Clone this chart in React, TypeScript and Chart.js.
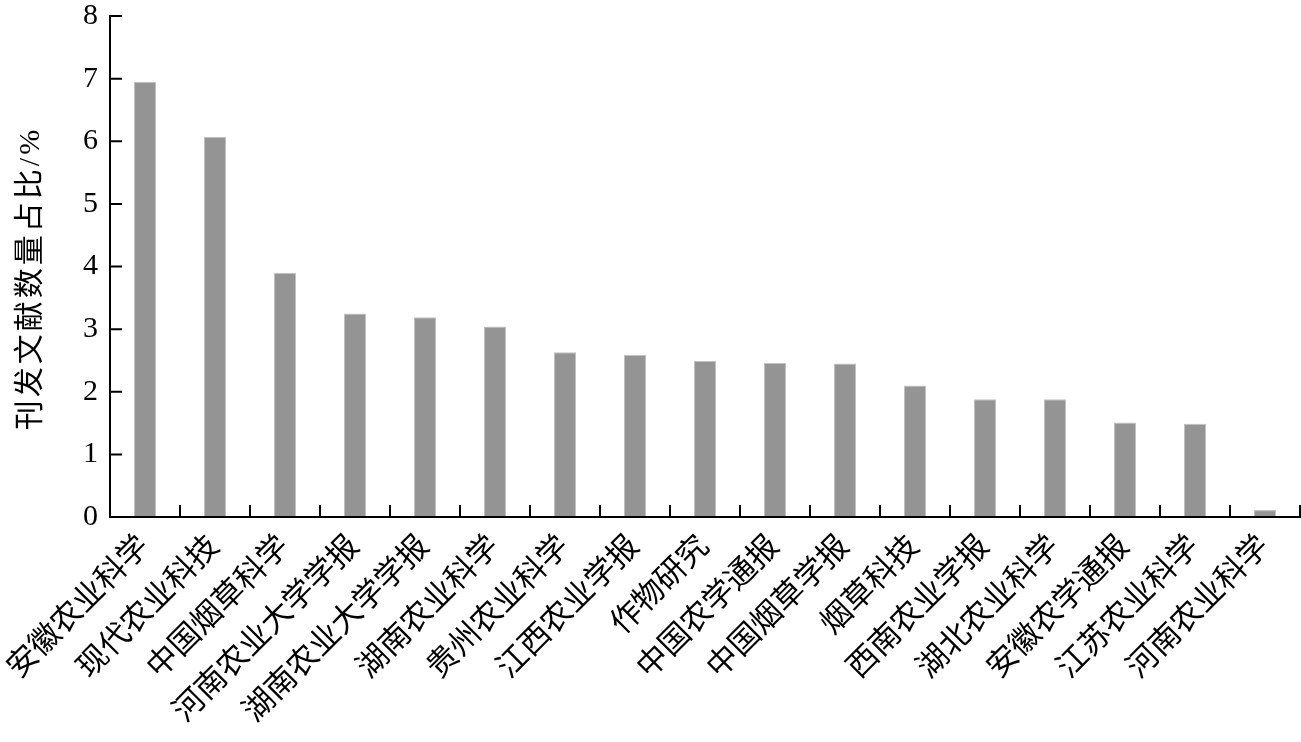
import React, { useEffect, useRef } from 'react';
import { Chart, registerables } from 'chart.js';

Chart.register(...registerables);

const categories = [
  '安徽农业科学',
  '现代农业科技',
  '中国烟草科学',
  '河南农业大学学报',
  '湖南农业大学学报',
  '湖南农业科学',
  '贵州农业科学',
  '江西农业学报',
  '作物研究',
  '中国农学通报',
  '中国烟草学报',
  '烟草科技',
  '西南农业学报',
  '湖北农业科学',
  '安徽农学通报',
  '江苏农业科学',
  '河南农业科学',
];
const shares = [6.95, 6.07, 3.9, 3.25, 3.19, 3.04, 2.63, 2.59, 2.49, 2.46, 2.45, 2.1, 1.88, 1.88, 1.51, 1.49, 0.11];
const yTicks = [0, 1, 2, 3, 4, 5, 6, 7, 8];
const yTitle = '刊发文献数量占比/%';

const FONT = '"Liberation Serif", "Noto Sans CJK SC", serif';

const axesPlugin = {
  id: 'customAxes',
  afterDraw(chart: any) {
    const { ctx, chartArea, scales } = chart;
    const x = scales.x;
    const y = scales.y;
    ctx.save();
    ctx.strokeStyle = '#000';
    ctx.lineWidth = 2;
    ctx.lineCap = 'square';
    ctx.beginPath();
    ctx.moveTo(chartArea.left, chartArea.top);
    ctx.lineTo(chartArea.left, chartArea.bottom);
    ctx.lineTo(chartArea.right, chartArea.bottom);
    ctx.stroke();
    ctx.lineCap = 'butt';
    ctx.beginPath();
    yTicks.forEach((v) => {
      const py = y.getPixelForValue(v);
      ctx.moveTo(chartArea.left, py);
      ctx.lineTo(chartArea.left + 12, py);
    });
    for (let i = 0; i < categories.length; i++) {
      const px = x.getPixelForValue(i + 0.5);
      ctx.moveTo(px, chartArea.bottom);
      ctx.lineTo(px, chartArea.bottom - 12);
    }
    ctx.stroke();

    // y-axis title
    const cy = (chartArea.top + chartArea.bottom) / 2 + 12;
    ctx.translate(31, cy);
    ctx.rotate(-Math.PI / 2);
    ctx.fillStyle = '#000';
    ctx.font = '30px ' + FONT;
    try {
      (ctx as any).letterSpacing = '3px';
    } catch (e) {}
    ctx.textAlign = 'center';
    ctx.textBaseline = 'middle';
    ctx.fillText(yTitle, 0, 0);
    ctx.restore();
  },
};

export default function App() {
  const canvasRef = useRef<HTMLCanvasElement | null>(null);

  useEffect(() => {
    const canvas = canvasRef.current;
    if (!canvas) return;
    const chart = new Chart(canvas, {
      type: 'bar',
      data: {
        labels: categories,
        datasets: [
          {
            data: shares,
            backgroundColor: '#949494',
            borderColor: '#c2c2c2',
            borderWidth: 1,
            barPercentage: 0.315,
            categoryPercentage: 1,
          },
        ],
      },
      options: {
        responsive: false,
        animation: false,
        devicePixelRatio: 1,
        layout: { padding: { top: 16, right: 1, left: 0, bottom: 0 } },
        plugins: {
          legend: { display: false },
          tooltip: { enabled: false },
        },
        scales: {
          x: {
            grid: { display: false, drawTicks: false },
            border: { display: false },
            afterFit: (scale: any) => {
              scale.height = 225;
              scale.paddingLeft = 0;
              scale.paddingRight = 0;
            },
            ticks: {
              autoSkip: false,
              minRotation: 45,
              maxRotation: 45,
              labelOffset: 0,
              padding: 12,
              color: '#000',
              font: { family: FONT, size: 31 },
            },
          },
          y: {
            min: 0,
            max: 8,
            grid: { display: false, drawTicks: false },
            border: { display: false },
            afterFit: (scale: any) => {
              scale.width = 110;
              scale.paddingTop = 0;
              scale.paddingBottom = 0;
            },
            ticks: {
              stepSize: 1,
              padding: 12,
              color: '#000',
              font: { family: FONT, size: 30 },
            },
          },
        },
      },
      plugins: [axesPlugin],
    });
    return () => chart.destroy();
  }, []);

  return (
    <div style={{ position: 'fixed', left: 0, top: 0, width: 1301, height: 742, background: '#fff' }}>
      <canvas ref={canvasRef} width={1301} height={742} style={{ width: 1301, height: 742, display: 'block' }} />
    </div>
  );
}
